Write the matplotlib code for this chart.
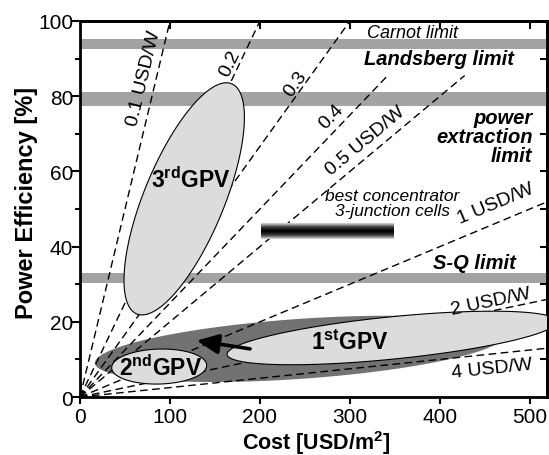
import numpy as np
import matplotlib
matplotlib.use('Agg')
import matplotlib.pyplot as plt
from matplotlib.colors import LinearSegmentedColormap

plt.rcParams['font.family'] = ['Liberation Sans', 'DejaVu Sans']
plt.rcParams['mathtext.fontset'] = 'custom'
plt.rcParams['mathtext.rm'] = 'Liberation Sans'
plt.rcParams['mathtext.bf'] = 'Liberation Sans:bold'
plt.rcParams['mathtext.it'] = 'Liberation Sans:italic'

# price lines in USD/W, efficiency [%] = cost [USD/m2] / (10 * price)
prices = [0.1, 0.2, 0.3, 0.4, 0.5, 1, 2, 4]
price_ymax = [100, 100, 100, 85.5, 85.5, 100, 100, 100]
price_labels = ['0.1 USD/W', '0.2', '0.3', '0.4', '0.5 USD/W', '1 USD/W', '2 USD/W', '4 USD/W']
label_x = [71, 167, 240, 279, 317, 462, 457, 458]
label_y = [85.0, 88.8, 83.5, 74.6, 68.2, 51.6, 25.5, 7.5]

# efficiency limits drawn as grey bands (low, high)
band_low = [92.6, 77.4, 30.4]
band_high = [95.1, 81.1, 33.1]

# regions: centre x, centre y, half axis a (x, y), conjugate half axis b (x, y)
region_dark = [244.4, 12.8, 227.8, 3.8, -2.3, 7.95]
region_1st = [346.7, 15.7, 183.3, 4.4, -2.3, 5.6]
region_2nd = [88.0, 8.1, 52.8, 0.3, 0.0, 4.65]
region_3rd = [115.8, 52.7, 52.8, 30.6, 41.1, -4.1]

# best concentrator cells bar: cost range and efficiency range
conc_cost = [201, 348]
conc_eff = [42.0, 46.0]

# arrow from 1st towards 2nd generation (tail, head)
arrow_tail = (189, 12.8)
arrow_head = (129.6, 15.0)

xmax = 519


def region_xy(r, n=200):
    t = np.linspace(0, 2 * np.pi, n)
    x = r[0] + r[2] * np.cos(t) + r[4] * np.sin(t)
    y = r[1] + r[3] * np.cos(t) + r[5] * np.sin(t)
    return x, y


fig = plt.figure(figsize=(5.49, 4.56), dpi=100)
ax = fig.add_axes([80 / 549, 1 - 398 / 456, 467 / 549, 376 / 456])
ax.set_xlim(0, xmax)
ax.set_ylim(0, 100)

# grey limit bands
for lo, hi in zip(band_low, band_high):
    ax.axhspan(lo, hi, color='#a3a3a3', lw=0, zorder=1)

# dark region (spread of 1st + 2nd generation)
x, y = region_xy(region_dark)
ax.fill(x, y, color='#727272', lw=0, zorder=1.5)

# price lines
for p, ym in zip(prices, price_ymax):
    xe = min(xmax, 10 * p * ym)
    cost = np.linspace(0, xe, 50)
    ax.plot(cost, cost / (10 * p), color='k', lw=1.0, dashes=(5.5, 3.2), zorder=2)

# light ellipses
for r in (region_1st, region_2nd, region_3rd):
    x, y = region_xy(r)
    ax.fill(x, y, facecolor='#dcdcdc', edgecolor='k', lw=0.8, zorder=3)

# concentrator bar with vertical gradient
v = np.abs(np.linspace(-1, 1, 40))[:, None] * np.ones((1, 2))
cmap = LinearSegmentedColormap.from_list('bar', ['#000000', '#3a3a3a', '#d8d8d8'])
ax.imshow(v, extent=[conc_cost[0], conc_cost[1], conc_eff[0], conc_eff[1]],
          aspect='auto', cmap=cmap, zorder=3, interpolation='bilinear')
ax.set_xlim(0, xmax)
ax.set_ylim(0, 100)

# price labels rotated along the lines
for p, lab, lx, ly in zip(prices, price_labels, label_x, label_y):
    p0 = ax.transData.transform((0, 0))
    p1 = ax.transData.transform((100, 100 / (10 * p)))
    ang = np.degrees(np.arctan2(p1[1] - p0[1], p1[0] - p0[0]))
    ax.text(lx, ly, lab, rotation=ang, rotation_mode='anchor', ha='center', va='center',
            fontsize=14, zorder=4)

# limit texts
ax.text(370, 96.9, 'Carnot limit', style='italic', fontsize=13, ha='center', va='center', zorder=4)
ax.text(399, 89.9, 'Landsberg limit', style='italic', weight='bold', fontsize=14.5,
        ha='center', va='center', zorder=4)
ax.text(503, 69.4, 'power\nextraction\nlimit', style='italic', weight='bold', fontsize=14.5,
        ha='right', va='center', linespacing=1.0, zorder=4)
ax.text(438, 35.9, 'S-Q limit', style='italic', weight='bold', fontsize=14.5,
        ha='center', va='center', zorder=4)
ax.text(347, 51.5, 'best concentrator\n3-junction cells', style='italic', fontsize=12.5,
        ha='center', va='center', linespacing=1.0, zorder=4)

# generation labels
ax.text(123, 58, r'3$^{\mathbf{rd}}$GPV', weight='bold', fontsize=16.5, ha='center', va='center', zorder=4)
ax.text(300, 14.6, r'1$^{\mathbf{st}}$GPV', weight='bold', fontsize=16.5, ha='center', va='center', zorder=4)
ax.text(89.7, 7.9, r'2$^{\mathbf{nd}}$GPV', weight='bold', fontsize=16.5, ha='center', va='center', zorder=4)

ax.annotate('', xy=arrow_head, xytext=arrow_tail,
            arrowprops=dict(arrowstyle='-|>,head_length=1.1,head_width=0.5', mutation_scale=12,
                            lw=2.6, color='k', shrinkA=0, shrinkB=0), zorder=4)

# axes and ticks
for s in ax.spines.values():
    s.set_linewidth(2.0)
ax.set_xticks(np.arange(0, 501, 100))
ax.set_yticks(np.arange(0, 101, 20))
ax.set_yticks(np.arange(10, 100, 20), minor=True)
ax.tick_params(axis='both', labelsize=15, width=1.5, color='k')
ax.tick_params(axis='x', which='major', direction='out', length=5, pad=2)
ax.tick_params(axis='y', which='major', direction='out', length=6, pad=-1)
ax.tick_params(axis='y', which='minor', direction='out', length=3.5, width=1.5)

secx = ax.secondary_xaxis('top')
secx.set_xticks(np.arange(100, 501, 100))
secx.tick_params(direction='in', length=5.5, width=1.5, labeltop=False)
secx.spines['top'].set_linewidth(2.0)
secy = ax.secondary_yaxis('right')
secy.set_yticks(np.arange(10, 100, 10))
secy.tick_params(direction='in', length=5, width=1.5, labelright=False)
secy.spines['right'].set_linewidth(2.0)

ax.set_xlabel(r'Cost [USD/m$^{\mathbf{2}}$]', fontsize=15.5, weight='bold')
ax.set_ylabel('Power Efficiency [%]', fontsize=17, weight='bold')
ax.xaxis.set_label_coords(0.506, -0.083)
ax.yaxis.set_label_coords(-0.09, 0.519)

fig.savefig('out.png', dpi=100)
